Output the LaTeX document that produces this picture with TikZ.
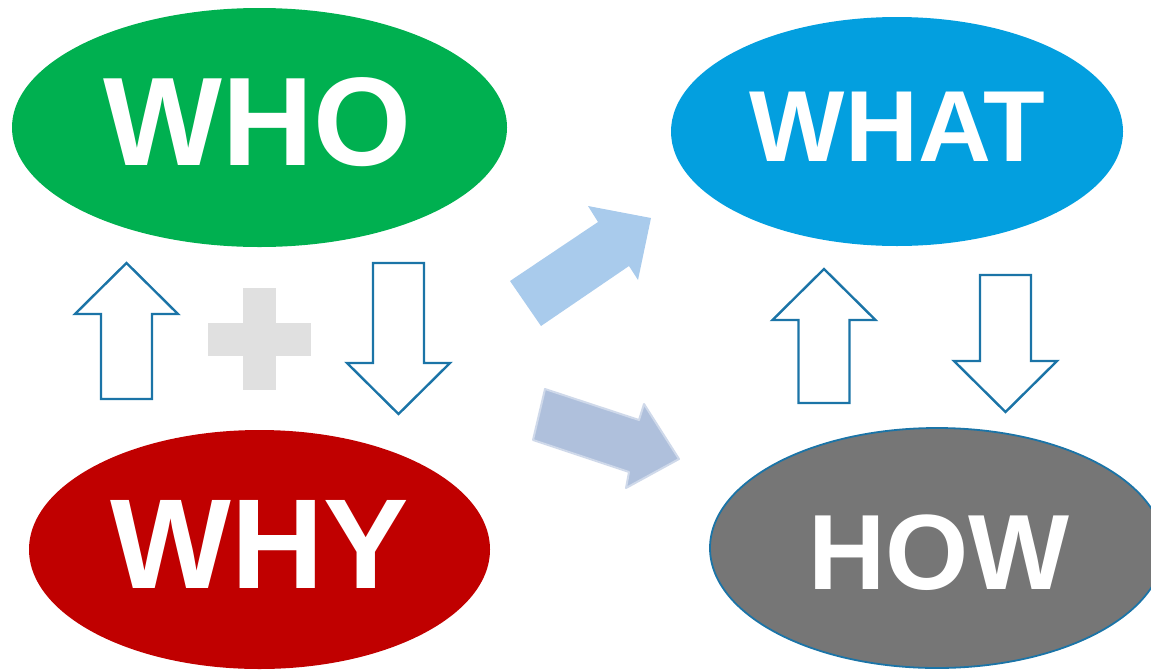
\documentclass[tikz,border=0pt]{standalone}
\usepackage{fontspec}
\setmainfont{Liberation Sans}
\usetikzlibrary{shapes.geometric}
\definecolor{whogreen}{HTML}{00B050}
\definecolor{whatblue}{HTML}{039FDF}
\definecolor{whyred}{HTML}{C00000}
\definecolor{howgray}{HTML}{767676}
\definecolor{rimblue}{HTML}{1B74A7}
\definecolor{plusgray}{HTML}{E0E0E0}
\definecolor{skyarrow}{HTML}{A9CBEC}
\definecolor{mistarrow}{HTML}{AFC0DC}
% block arrow: x of the tip, y of the tip, length, 1 = up / -1 = down
\NewDocumentCommand{\blockarrow}{mmmm}{%
  \draw[hollowarrow,shift={(#1,#2)},yscale=#4]
    (0,0) -- (51.5,51) -- (25.5,51) -- (25.5,#3) -- (-25.5,#3) -- (-25.5,51) -- (-51.5,51) -- cycle;}

\begin{document}
\begin{tikzpicture}[x=1pt,y=-1pt,
        qblob/.style={ellipse,inner sep=0pt,draw=none},
        qword/.style={text=white,inner sep=0pt,font=\bfseries\fontsize{#1pt}{#1pt}\selectfont},
        hollowarrow/.style={draw=rimblue,line width=2.4pt,fill=white,line join=miter}]
      \useasboundingbox (0,0) rectangle (1151,670);
      \clip (0,0) rectangle (1151,670);

      \node[qblob,fill=whogreen,minimum width=495pt,minimum height=239pt]  (who)  at (259.5,127.5) {};
      \node[qblob,fill=whatblue,minimum width=452pt,minimum height=229pt]  (what) at (897,131.5)   {};
      \node[qblob,fill=whyred,minimum width=461pt,minimum height=239pt]    (why)  at (259.5,549.5) {};
      \node[qblob,fill=howgray,draw=rimblue,line width=1.8pt,minimum width=454pt,minimum height=240pt] (how) at (937,548) {};

      \node[qword=126] (who-t)  at (257.5,122)   {WHO};
      \node[qword=101] (what-t) at (897.5,126.5) {WHAT};
      \node[qword=128] (why-t)  at (260,544.5)   {WHY};
      \node[qword=107] (how-t)  at (939,552.5)   {HOW};

      \blockarrow{126.5}{263}{136}{1}
      \blockarrow{398.5}{414}{151}{-1}
      \blockarrow{824}{269}{134}{1}
      \blockarrow{1005.5}{412}{137}{-1}

      \fill[plusgray] (208,323) rectangle (311,356);
      \fill[plusgray] (243,288) rectangle (276,390);

      \fill[skyarrow] (510,281) -- (598,222) -- (588,206) -- (651,218) -- (638,280) -- (629,266) -- (541,326) -- cycle;
      \filldraw[fill=mistarrow,draw=mistarrow!60,line width=2pt,line join=round]
        (545,389) -- (639,420) -- (644,404) -- (679,459) -- (626,488) -- (629,472) -- (533,440) -- cycle;
    \end{tikzpicture}
\end{document}
